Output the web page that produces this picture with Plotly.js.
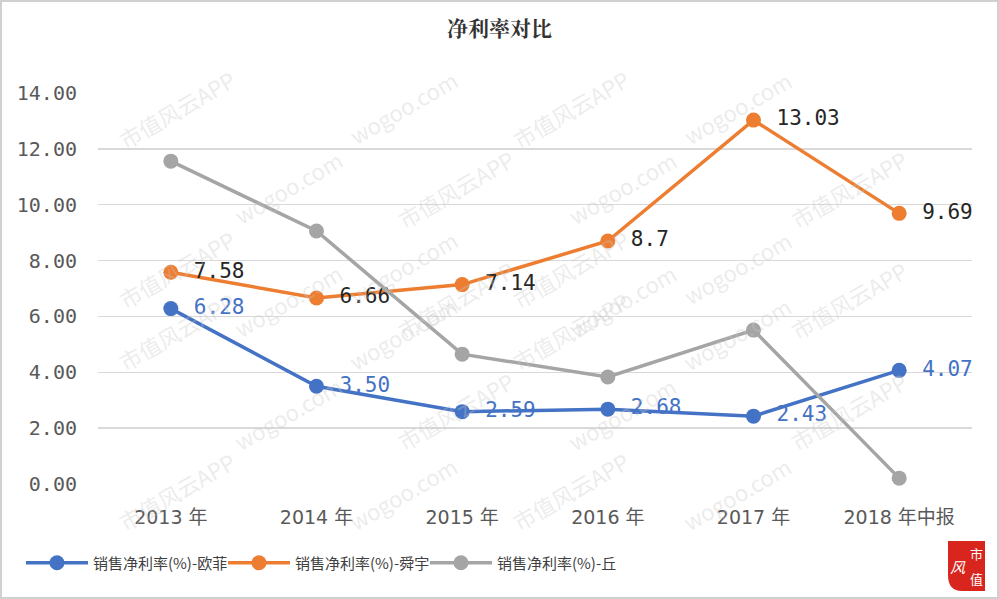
<!DOCTYPE html>
<html>
<head>
<meta charset="utf-8">
<script src="https://cdn.plot.ly/plotly-3.0.1.min.js"></script>
<style>html,body{margin:0;padding:0;background:#fff;}#chart{width:999px;height:599px;}</style>
</head>
<body>
<div id="chart"></div>
<script>
const categories = ["2013 年", "2014 年", "2015 年", "2016 年", "2017 年", "2018 年中报"];
const ofeiValues = [6.28, 3.50, 2.59, 2.68, 2.43, 4.07];
const ofeiLabels = ["6.28", "3.50", "2.59", "2.68", "2.43", "4.07"];
const sunnyValues = [7.58, 6.66, 7.14, 8.7, 13.03, 9.69];
const sunnyLabels = ["7.58", "6.66", "7.14", "8.7", "13.03", "9.69"];
const qiutiValues = [11.56, 9.06, 4.65, 3.83, 5.51, 0.21];
const seriesNames = ["销售净利率(%)-欧菲", "销售净利率(%)-舜宇", "销售净利率(%)-丘"];
const yTicks = [0, 2, 4, 6, 8, 10, 12, 14];
const yTickText = ["0.00", "2.00", "4.00", "6.00", "8.00", "10.00", "12.00", "14.00"];

const cjk = '"Noto Sans CJK SC", sans-serif';
const numFont = '"DejaVu Sans", "Noto Sans CJK SC", sans-serif';
const monoFont = '"DejaVu Sans Mono", "Noto Sans CJK SC", monospace';
const pad = s => '\u00a0' + s;

const traces = [
  {
    x: categories, y: ofeiValues, name: seriesNames[0], type: 'scatter', mode: 'lines+markers+text',
    text: ofeiLabels.map(pad), textposition: 'middle right',
    textfont: {color: '#4472C4', size: 21, family: monoFont},
    line: {color: '#4472C4', width: 3.5}, marker: {color: '#4472C4', size: 15},
    cliponaxis: false
  },
  {
    x: categories, y: sunnyValues, name: seriesNames[1], type: 'scatter', mode: 'lines+markers+text',
    text: sunnyLabels.map(pad), textposition: 'middle right',
    textfont: {color: '#262626', size: 21, family: monoFont},
    line: {color: '#ED7D31', width: 3.5}, marker: {color: '#ED7D31', size: 15},
    cliponaxis: false
  },
  {
    x: categories, y: qiutiValues, name: seriesNames[2], type: 'scatter', mode: 'lines+markers',
    line: {color: '#A5A5A5', width: 3.5}, marker: {color: '#A5A5A5', size: 15},
    cliponaxis: false
  }
];

const px2x = px => (px - 98) / 874;
const px2y = py => (484 - py) / 391;

// decorative watermark tiling, kept fully inside the canvas
const annotations = [];
const wm = ["市值风云APP", "wogoo.com"];
for (let row = 0; row < 7; row++) {
  for (let col = 0; col < 5; col++) {
    const px = col * 230 + (row % 2 ? 115 : 0) + 110;
    const py = row * 80 + 60;
    if (px < 85 || px > 915 || py < 50 || py > 545) continue;
    annotations.push({
      xref: 'paper', yref: 'paper', x: px2x(px), y: px2y(py),
      text: wm[(row + col) % 2], showarrow: false, textangle: -30,
      font: {size: 22, color: 'rgba(200,200,200,0.35)', family: cjk}
    });
  }
}
// small red logo in the corner
const logoChars = [["风", 958, 566, true], ["市", 976, 553, false], ["值", 976, 578, false]];
logoChars.forEach(([t, px, py, it]) => annotations.push({
  xref: 'paper', yref: 'paper', x: px2x(px), y: px2y(py), xanchor: 'center', yanchor: 'middle',
  text: it ? '<i>' + t + '</i>' : t, showarrow: false,
  font: {size: it ? 15 : 13, color: '#ffffff', family: cjk}
}));

const layout = {
  width: 999, height: 599,
  paper_bgcolor: '#ffffff', plot_bgcolor: 'rgba(0,0,0,0)',
  margin: {l: 98, r: 27, t: 93, b: 115},
  title: {text: '<b>净利率对比</b>', x: 0.5, xref: 'container', y: 0.953, yref: 'container', yanchor: 'middle',
          font: {size: 21, color: '#333333', family: '"Noto Serif CJK SC", "Noto Sans CJK SC", serif'}},
  showlegend: true,
  legend: {orientation: 'h', xref: 'container', yref: 'container', x: 0.021, y: 0.06, yanchor: 'middle',
           font: {size: 15, color: '#404040', family: cjk}, traceorder: 'normal', itemwidth: 62,
           entrywidth: 125, bgcolor: 'rgba(0,0,0,0)'},
  xaxis: {
    type: 'category', range: [-0.5, 5.5], showgrid: false, zeroline: false, showline: false, ticks: '',
    tickfont: {size: 19, color: '#595959', family: numFont}, ticklabelstandoff: 20
  },
  yaxis: {
    range: [0, 14], tickvals: yTicks, ticktext: yTickText, showgrid: true, gridcolor: '#D9D9D9', gridwidth: 1.5,
    zeroline: false, showline: false, ticks: '',
    tickfont: {size: 20, color: '#595959', family: monoFont}, ticklabelstandoff: 20
  },
  annotations: annotations,
  shapes: [
    {type: 'rect', xref: 'paper', yref: 'paper', x0: -97/874, x1: 26/874 + 1, y0: -114/391, y1: 92/391 + 1,
     line: {color: '#D0D0D0', width: 2}, layer: 'below'},
    {type: 'path', xref: 'paper', yref: 'paper',
     path: 'M ' + px2x(948) + ' ' + px2y(541) + ' L ' + px2x(985) + ' ' + px2y(541) +
           ' L ' + px2x(985) + ' ' + px2y(591) + ' L ' + px2x(962) + ' ' + px2y(591) +
           ' Q ' + px2x(948) + ' ' + px2y(591) + ' ' + px2x(948) + ' ' + px2y(575) + ' Z',
     fillcolor: '#D8261E', line: {width: 0}, layer: 'above'}
  ]
};

Plotly.newPlot('chart', traces, layout, {displayModeBar: false, staticPlot: true});
</script>
</body>
</html>
